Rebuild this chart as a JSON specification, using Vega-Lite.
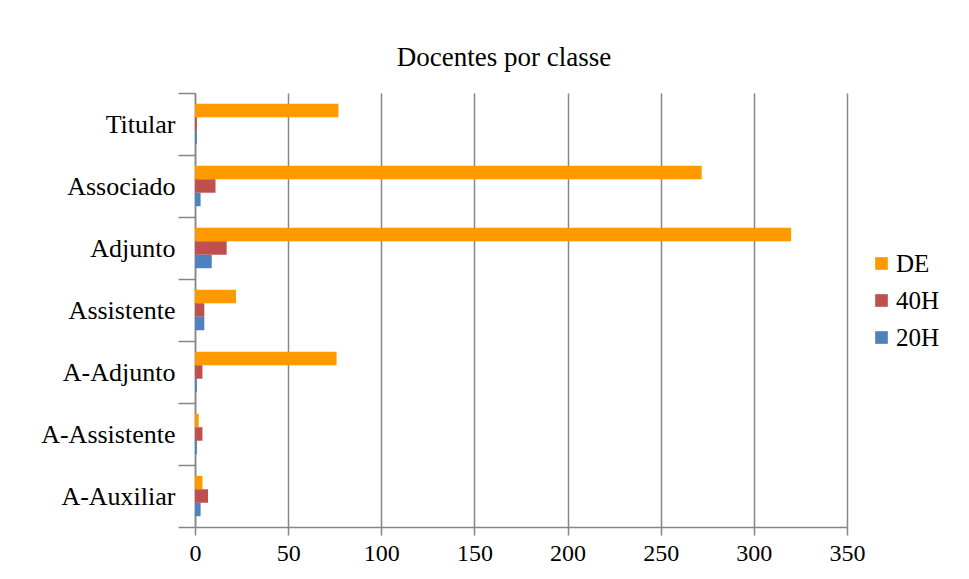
{
  "$schema": "https://vega.github.io/schema/vega-lite/v6.json",
  "width": 652,
  "height": 434,
  "autosize": "none",
  "padding": {"left": 195, "top": 93, "right": 122, "bottom": 52},
  "background": "white",
  "title": {"text": "Docentes por classe", "font": "Liberation Serif", "fontSize": 27, "fontWeight": "normal", "color": "#000000", "offset": 8, "dx": -17, "anchor": "middle"},
  "data": {"values": [
    {"classe": "Titular", "regime": "DE", "n": 77},
    {"classe": "Titular", "regime": "40H", "n": 1},
    {"classe": "Titular", "regime": "20H", "n": 1},
    {"classe": "Associado", "regime": "DE", "n": 272},
    {"classe": "Associado", "regime": "40H", "n": 11},
    {"classe": "Associado", "regime": "20H", "n": 3},
    {"classe": "Adjunto", "regime": "DE", "n": 320},
    {"classe": "Adjunto", "regime": "40H", "n": 17},
    {"classe": "Adjunto", "regime": "20H", "n": 9},
    {"classe": "Assistente", "regime": "DE", "n": 22},
    {"classe": "Assistente", "regime": "40H", "n": 5},
    {"classe": "Assistente", "regime": "20H", "n": 5},
    {"classe": "A-Adjunto", "regime": "DE", "n": 76},
    {"classe": "A-Adjunto", "regime": "40H", "n": 4},
    {"classe": "A-Adjunto", "regime": "20H", "n": 1},
    {"classe": "A-Assistente", "regime": "DE", "n": 2},
    {"classe": "A-Assistente", "regime": "40H", "n": 4},
    {"classe": "A-Assistente", "regime": "20H", "n": 1},
    {"classe": "A-Auxiliar", "regime": "DE", "n": 4},
    {"classe": "A-Auxiliar", "regime": "40H", "n": 7},
    {"classe": "A-Auxiliar", "regime": "20H", "n": 3}
  ]},
  "mark": {"type": "bar"},
  "encoding": {
    "y": {
      "field": "classe", "type": "nominal",
      "sort": ["Titular", "Associado", "Adjunto", "Assistente", "A-Adjunto", "A-Assistente", "A-Auxiliar"],
      "scale": {"paddingInner": 0, "paddingOuter": 0},
      "axis": {"title": null, "tickBand": "extent", "tickSize": 17, "labelPadding": 3, "labelFont": "Liberation Serif", "labelFontSize": 26, "labelColor": "#000000", "domainColor": "#868686", "tickColor": "#868686", "domainWidth": 1.5, "tickWidth": 1.5}
    },
    "yOffset": {"field": "regime", "type": "nominal", "sort": ["DE", "40H", "20H"], "scale": {"paddingInner": 0, "paddingOuter": 0.8}},
    "x": {
      "field": "n", "type": "quantitative",
      "scale": {"domain": [0, 350], "nice": false},
      "axis": {"title": null, "values": [0, 50, 100, 150, 200, 250, 300, 350], "labelFlush": false, "grid": true, "gridColor": "#868686", "gridWidth": 1.5, "tickSize": 8, "labelPadding": 6, "labelFont": "Liberation Serif", "labelFontSize": 24, "labelColor": "#000000", "domainColor": "#868686", "tickColor": "#868686", "domainWidth": 1.5, "tickWidth": 1.5}
    },
    "color": {
      "field": "regime", "type": "nominal",
      "scale": {"domain": ["DE", "40H", "20H"], "range": ["#FF9900", "#C0504D", "#4F81BD"]},
      "legend": {"title": null, "orient": "none", "legendX": 674, "legendY": 158, "symbolType": "square", "symbolSize": 160, "symbolStrokeWidth": 0, "labelFont": "Liberation Serif", "labelFontSize": 25, "labelColor": "#000000", "rowPadding": 11, "labelOffset": 2}
    }
  },
  "config": {"view": {"stroke": null}, "bar": {"opacity": 1}}
}
